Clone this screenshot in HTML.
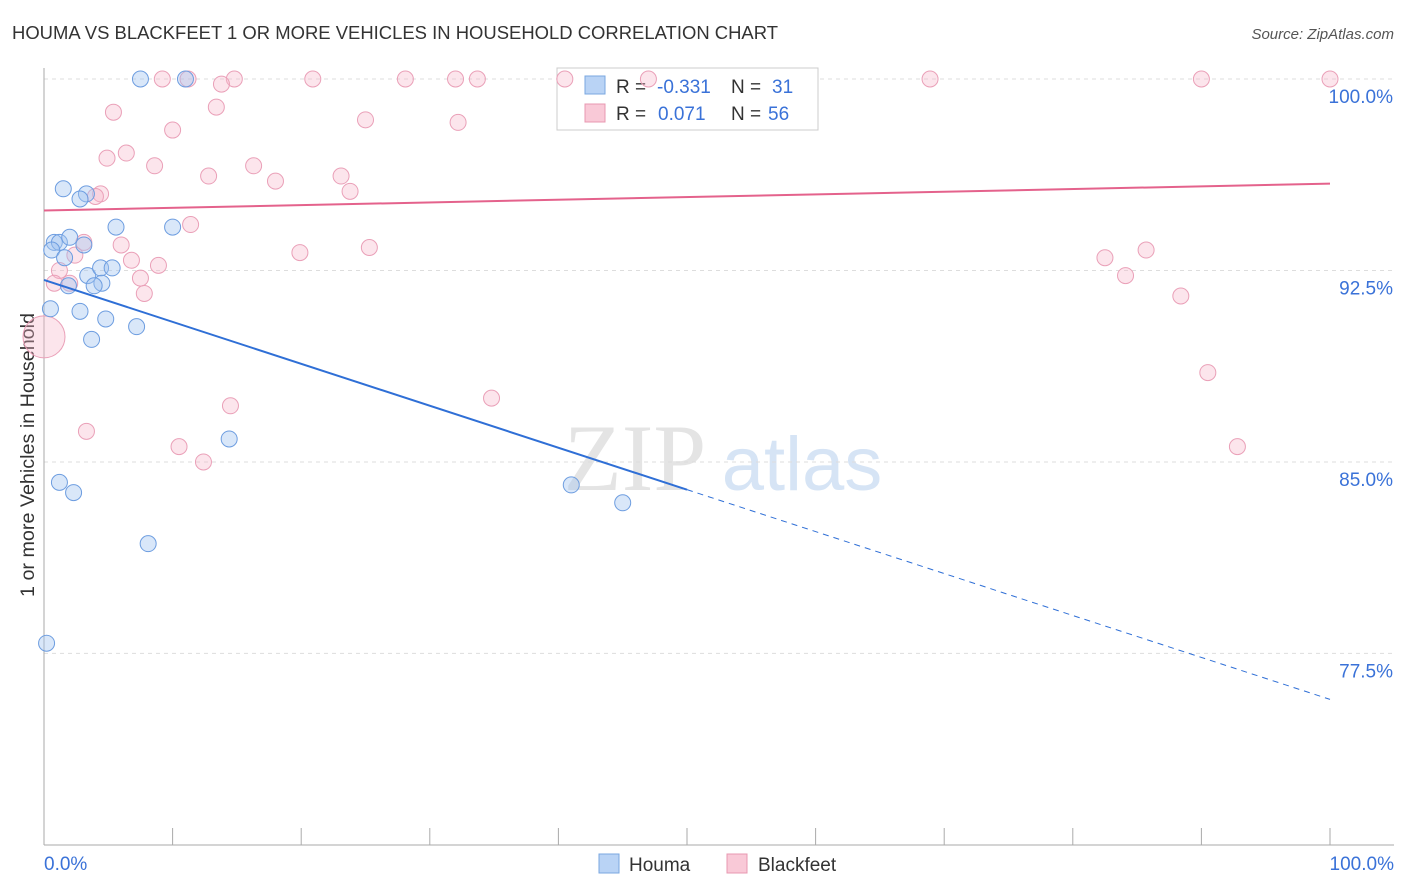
<!DOCTYPE html>
<html><head><meta charset="utf-8"><style>
body{margin:0;background:#fff;font-family:"Liberation Sans",sans-serif}
svg{display:block}
</style></head><body>
<svg id="c" width="1406" height="892">
<text x="12" y="39" font-size="18.5" fill="#333" textLength="766" lengthAdjust="spacingAndGlyphs">HOUMA VS BLACKFEET 1 OR MORE VEHICLES IN HOUSEHOLD CORRELATION CHART</text>
<text x="1394" y="39" font-size="15" fill="#555" text-anchor="end" font-style="italic">Source: ZipAtlas.com</text>
<text x="635" y="490" font-size="95" fill="#e4e4e4" text-anchor="middle" font-family="Liberation Serif,serif">ZIP</text>
<text x="802" y="490" font-size="76" fill="#d6e4f5" text-anchor="middle">atlas</text>
<text x="34" y="455" font-size="19" fill="#333" text-anchor="middle" textLength="284" lengthAdjust="spacingAndGlyphs" transform="rotate(-90 34 455)">1 or more Vehicles in Household</text>
<g id="grid"></g>
<g>
<rect x="557" y="68" width="261" height="62" fill="#fff" stroke="#ccc"/>
<rect x="585" y="76" width="20" height="18" fill="#b9d3f5" stroke="#7aa7e0"/>
<text x="616" y="93" font-size="19" fill="#333">R = </text><text x="657" y="93" font-size="19" fill="#3a72d8">-0.331</text>
<text x="731" y="93" font-size="19" fill="#333">N = </text><text x="772" y="93" font-size="19" fill="#3a72d8">31</text>
<rect x="585" y="104" width="20" height="18" fill="#f9c9d7" stroke="#e898b0"/>
<text x="616" y="120" font-size="19" fill="#333">R = </text><text x="658" y="120" font-size="19" fill="#3a72d8">0.071</text>
<text x="731" y="120" font-size="19" fill="#333">N = </text><text x="768" y="120" font-size="19" fill="#3a72d8">56</text>
</g>
<g id="marks"></g>
<g>
<rect x="599" y="854" width="20" height="19" fill="#b9d3f5" stroke="#7aa7e0"/>
<text x="629" y="871" font-size="19" fill="#333">Houma</text>
<rect x="727" y="854" width="20" height="19" fill="#f9c9d7" stroke="#e898b0"/>
<text x="758" y="871" font-size="19" fill="#333">Blackfeet</text>
</g>
</svg>
<script>
const houmaX=[7.5,11.0,1.5,3.3,2.8,5.6,10.0,0.8,1.2,2.0,3.1,0.6,1.6,3.4,4.4,5.3,4.5,1.9,3.9,0.5,2.8,4.8,7.2,3.7,14.4,1.2,2.3,8.1,0.2,41.0,45.0];
const houmaY=[100,100,95.7,95.5,95.3,94.2,94.2,93.6,93.6,93.8,93.5,93.3,93.0,92.3,92.6,92.6,92.0,91.9,91.9,91.0,90.9,90.6,90.3,89.8,85.9,84.2,83.8,81.8,77.9,84.1,83.4];
const bfX=[9.2,11.2,14.8,13.8,20.9,28.1,32.0,33.7,40.5,47.0,68.9,90.0,100,5.4,13.4,25.0,32.2,10.0,6.4,4.9,8.6,16.3,12.8,18.0,23.1,23.8,4.4,4.0,11.4,3.1,6.0,19.9,25.3,2.4,6.8,1.2,8.9,7.5,0.8,2.0,7.8,82.5,85.7,84.1,88.4,0,34.8,90.5,14.5,3.3,10.5,12.4,92.8];
const bfY=[100,100,100,99.8,100,100,100,100,100,100,100,100,100,98.7,98.9,98.4,98.3,98.0,97.1,96.9,96.6,96.6,96.2,96.0,96.2,95.6,95.5,95.4,94.3,93.6,93.5,93.2,93.4,93.1,92.9,92.5,92.7,92.2,92.0,92.0,91.6,93.0,93.3,92.3,91.5,89.9,87.5,88.5,87.2,86.2,85.6,85.0,85.6];
const yTicks=[100,92.5,85,77.5];
const yTickLabels=["100.0%","92.5%","85.0%","77.5%"];
const houmaLine=[92.13,75.7];
const bfLine=[94.85,95.9];
const NS="http://www.w3.org/2000/svg";
const X=v=>44+v*12.86, Y=v=>79+(100-v)*25.53;
const grid=document.getElementById('grid'), marks=document.getElementById('marks');
function mk(p,tag,a){const e=document.createElementNS(NS,tag);for(const k in a)e.setAttribute(k,a[k]);p.appendChild(e);return e;}
yTicks.forEach((t,i)=>{
 const l=mk(grid,'line',{x1:44,x2:1394,y1:Y(t),y2:Y(t),stroke:'#ddd','stroke-dasharray':'4,4'});
 
 
 const tx=mk(grid,'text',{x:1393,y:Y(t)+24,'font-size':19,fill:'#3a72d8','text-anchor':'end'});
 tx.textContent=yTickLabels[i];
 
 
});
const ax=mk(grid,'line',{x1:44,x2:1394,y1:845,y2:845,stroke:'#aaa'});


const ay=mk(grid,'line',{x1:44,x2:44,y1:68,y2:845,stroke:'#aaa'});


for(let i=0;i<=10;i++){const t=mk(grid,'line',{x1:X(i*10),x2:X(i*10),y1:828,y2:845,stroke:'#aaa'});
 
 }
[[0,"0.0%",'start',44],[100,"100.0%",'end',1394]].forEach(d=>{const t=mk(grid,'text',{x:d[3],y:870,'font-size':19,fill:'#3a72d8','text-anchor':d[2]});t.textContent=d[1];
 
 });
bfX.forEach((x,i)=>{const c=mk(marks,'circle',{cx:X(x),cy:Y(bfY[i]),r:(x===0&&bfY[i]<90.5)?21:8,fill:'rgba(247,180,200,0.35)',stroke:'#eaa0b8','stroke-width':1});
 
 });
houmaX.forEach((x,i)=>{const c=mk(marks,'circle',{cx:X(x),cy:Y(houmaY[i]),r:8,fill:'rgba(160,195,240,0.4)',stroke:'#6d9de0','stroke-width':1});
 
 });
const hm=houmaLine[0]+(houmaLine[1]-houmaLine[0])*0.5;
const l1=mk(marks,'line',{x1:X(0),y1:Y(houmaLine[0]),x2:X(50),y2:Y(hm),stroke:'#2f6fd6','stroke-width':2});


const l2=mk(marks,'line',{x1:X(50),y1:Y(hm),x2:X(100),y2:Y(houmaLine[1]),stroke:'#2f6fd6','stroke-width':1,'stroke-dasharray':'6,5'});


const l3=mk(marks,'line',{x1:X(0),y1:Y(bfLine[0]),x2:X(100),y2:Y(bfLine[1]),stroke:'#e4628c','stroke-width':2});


</script>
</body></html>
